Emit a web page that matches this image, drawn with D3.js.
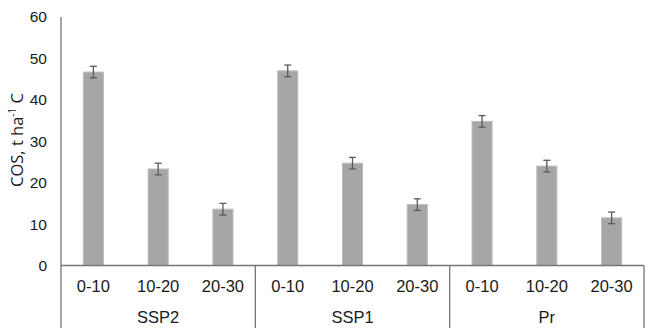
<!DOCTYPE html>
<html>
<head>
<meta charset="utf-8">
<script src="https://cdn.jsdelivr.net/npm/d3@7"></script>
<style>
  html, body { margin: 0; padding: 0; background: #fff; }
  svg { display: block; font-family: "Liberation Sans", Arial, sans-serif; }
</style>
</head>
<body>
<svg id="chart" width="652" height="336"></svg>
<script>
// Scenarios (outer category level) and soil depths (inner level, cm)
const groups = ["SSP2", "SSP1", "Pr"];
const depths = ["0-10", "10-20", "20-30"];

// Soil organic carbon stock, t ha-1 C, by depth for each scenario
const ssp2Values = [46.7, 23.3, 13.6];
const ssp1Values = [47.0, 24.7, 14.7];
const prValues   = [34.8, 24.0, 11.5];

// Error bar half-widths
const ssp2Errors = [1.4, 1.4, 1.4];
const ssp1Errors = [1.4, 1.4, 1.4];
const prErrors   = [1.4, 1.4, 1.4];

const yTicks = [0, 10, 20, 30, 40, 50, 60];

const seriesValues = [ssp2Values, ssp1Values, prValues];
const seriesErrors = [ssp2Errors, ssp1Errors, prErrors];

const rows = [];
groups.forEach((g, gi) => {
  depths.forEach((d, di) => {
    rows.push({ key: g + "|" + d, group: g, depth: d,
                value: seriesValues[gi][di], err: seriesErrors[gi][di] });
  });
});

const svg = d3.select("#chart");
const plotLeft = 61, plotRight = 644, plotTop = 17, baseY = 265.5, bottomLine = 328;

const x = d3.scaleBand()
  .domain(rows.map(r => r.key))
  .range([plotLeft, plotRight])
  .paddingInner(0.69)
  .paddingOuter(0.345);

const y = d3.scaleLinear().domain([0, 60]).range([baseY, plotTop]);

const axisColor = "#767676";
const textColor = "#1a1a1a";

// Bars
svg.append("g").selectAll("rect")
  .data(rows)
  .join("rect")
  .attr("x", d => x(d.key))
  .attr("y", d => y(d.value))
  .attr("width", x.bandwidth())
  .attr("height", d => y(0) - y(d.value))
  .attr("fill", "#a6a6a6")
  .attr("stroke", "#bdbdbd")
  .attr("stroke-width", 1);

// Error bars
const eb = svg.append("g").attr("stroke", "#5a5a5a").attr("stroke-width", 1.3);
rows.forEach(r => {
  const cx = x(r.key) + x.bandwidth() / 2;
  const y1 = y(r.value + r.err), y2 = y(r.value - r.err);
  eb.append("line").attr("x1", cx).attr("x2", cx).attr("y1", y1).attr("y2", y2);
  eb.append("line").attr("x1", cx - 3.5).attr("x2", cx + 3.5).attr("y1", y1).attr("y2", y1);
  eb.append("line").attr("x1", cx - 3.5).attr("x2", cx + 3.5).attr("y1", y2).attr("y2", y2);
});

// Y axis: labels only, no tick marks
const yAxis = d3.axisLeft(y).tickValues(yTicks).tickSize(0).tickPadding(14);
const yg = svg.append("g").attr("transform", `translate(${plotLeft},0)`).call(yAxis);
yg.select(".domain").remove();
yg.selectAll("text")
  .attr("font-size", 15.5)
  .attr("font-family", "Liberation Sans, Arial, sans-serif")
  .attr("fill", textColor);

svg.append("line")
  .attr("x1", plotLeft).attr("x2", plotLeft)
  .attr("y1", y(60)).attr("y2", bottomLine)
  .attr("stroke", axisColor).attr("stroke-width", 1.3);

// X axis baseline
svg.append("line")
  .attr("x1", plotLeft).attr("x2", plotRight)
  .attr("y1", baseY).attr("y2", baseY)
  .attr("stroke", axisColor).attr("stroke-width", 1.3);

// Group separators and right border
const step = x.step();
const groupEdges = groups.map((g, gi) => plotLeft + step * 3 * (gi + 1));
svg.append("g").selectAll("line")
  .data(groupEdges)
  .join("line")
  .attr("x1", d => Math.min(d, plotRight)).attr("x2", d => Math.min(d, plotRight))
  .attr("y1", baseY).attr("y2", bottomLine)
  .attr("stroke", axisColor).attr("stroke-width", 1.3);

// Inner category labels
svg.append("g").selectAll("text")
  .data(rows)
  .join("text")
  .attr("x", d => x(d.key) + x.bandwidth() / 2)
  .attr("y", 292)
  .attr("text-anchor", "middle")
  .attr("font-size", 16.5)
  .attr("fill", textColor)
  .text(d => d.depth);

// Outer group labels
svg.append("g").selectAll("text")
  .data(groups)
  .join("text")
  .attr("x", (d, i) => plotLeft + step * (3 * i + 1.5))
  .attr("y", 323)
  .attr("text-anchor", "middle")
  .attr("font-size", 16.5)
  .attr("fill", textColor)
  .text(d => d);

// Y axis title
const title = svg.append("text")
  .attr("transform", "translate(23,140) rotate(-90)")
  .attr("text-anchor", "middle")
  .attr("font-family", "'Open Sans', 'Noto Sans', sans-serif")
  .attr("font-size", 16.5)
  .attr("fill", textColor);
title.append("tspan").text("COS, t ha");
title.append("tspan").attr("font-size", 10).attr("dy", -7).text("-1");
title.append("tspan").attr("dy", 7).text(" C");
</script>
</body>
</html>
